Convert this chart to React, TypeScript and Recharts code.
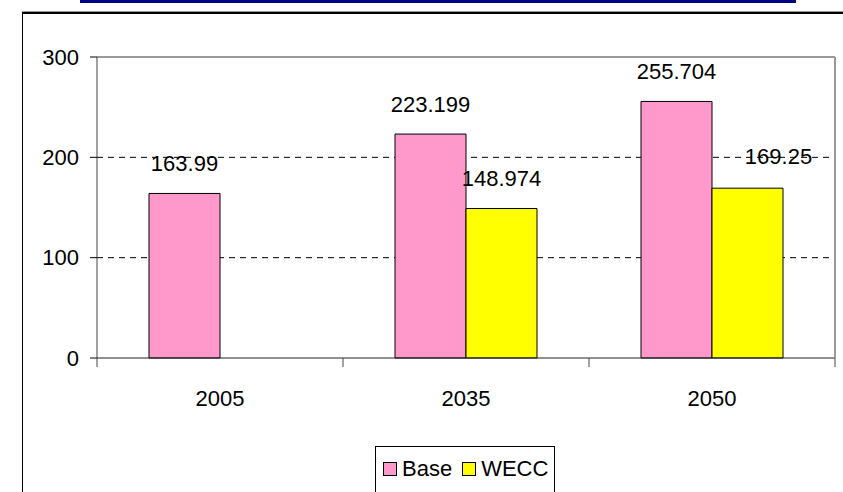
import React from "react";
import {
  BarChart,
  Bar,
  XAxis,
  YAxis,
  CartesianGrid,
  ReferenceLine,
} from "recharts";

// Categories and series values
const years = ["2005", "2035", "2050"];
const baseValues = [163.99, 223.199, 255.704];
const weccValues: (number | null)[] = [null, 148.974, 169.25];
const yTicks = [0, 100, 200, 300];
const gridValues = [100, 200];

const rows = years.map((year, i) => ({
  year,
  Base: baseValues[i],
  WECC: weccValues[i],
}));

const FONT = "'Liberation Sans', Arial, sans-serif";
const FS = 22;
const PINK = "#FF99CC";
const YELLOW = "#FFFF00";

// Label placement tweaks (dx, dy of label centre relative to bar top centre)
const baseLabelShift = { dx: 0, dy: -30 };
const weccLabelShift: Record<number, { dx: number; dy: number }> = {
  1: { dx: 31, dy: -32 },
  2: { dx: 43, dy: -16 },
};

const makeLabel =
  (shiftFor: (i: number) => { dx: number; dy: number }) => (props: any) => {
    const { x, y, width, value, index } = props;
    if (value === null || value === undefined) return null;
    const s = shiftFor(index);
    return (
      <text
        x={x + width / 2 + s.dx}
        y={y + s.dy}
        dy="0.36em"
        textAnchor="middle"
        fontFamily={FONT}
        fontSize={FS}
        fill="#000"
      >
        {String(value)}
      </text>
    );
  };

// Category label at the band centre plus tick marks on band boundaries
const XTick = (props: any) => {
  const { x, y, payload, index, visibleTicksCount, width } = props;
  const half =
    payload && payload.offset
      ? payload.offset
      : width / (visibleTicksCount || 1) / 2;
  const last = index === visibleTicksCount - 1;
  return (
    <g>
      <line x1={x - half} x2={x - half} y1={y} y2={y + 9} stroke="#444" strokeWidth={1} />
      {last && (
        <line x1={x + half} x2={x + half} y1={y} y2={y + 9} stroke="#444" strokeWidth={1} />
      )}
      <text
        x={x}
        y={y + 48}
        textAnchor="middle"
        fontFamily={FONT}
        fontSize={FS}
        fill="#000"
      >
        {payload.value}
      </text>
    </g>
  );
};

const LegendSwatch = ({ color }: { color: string }) => (
  <span
    style={{
      display: "inline-block",
      width: 12,
      height: 12,
      background: color,
      border: "1px solid #000",
      marginRight: 5,
      verticalAlign: "middle",
      position: "relative",
      top: -1,
    }}
  />
);

export default function App() {
  return (
    <div
      style={{
        position: "absolute",
        left: 0,
        top: 0,
        width: 843,
        height: 492,
        overflow: "hidden",
        background: "#fff",
      }}
    >
      {/* title rule */}
      <div
        style={{
          position: "absolute",
          left: 80,
          top: 0,
          width: 716,
          height: 3,
          background: "#000080",
        }}
      />
      {/* chart frame */}
      <div
        style={{
          position: "absolute",
          left: 22,
          top: 12,
          width: 900,
          height: 600,
          borderLeft: "1px solid #000",
          borderTop: "2px solid #000",
          boxShadow: "0 -1px 0 #999",
        }}
      />
      <div style={{ position: "absolute", left: 0, top: 0 }}>
        <BarChart
          width={843}
          height={492}
          data={rows}
          margin={{ top: 57, right: 0, bottom: 86, left: 0 }}
          barCategoryGap={52}
          barGap={0}
        >
          <CartesianGrid
            vertical={false}
            stroke="#000"
            strokeDasharray="6 5"
            yAxisId="left"
            horizontalValues={gridValues}
          />
          <XAxis
            dataKey="year"
            height={48}
            axisLine={{ stroke: "#222", strokeWidth: 1 }}
            tickLine={false}
            tickSize={0}
            tickMargin={0}
            tick={<XTick />}
            interval={0}
          />
          <YAxis
            yAxisId="left"
            width={97}
            domain={[0, 300]}
            ticks={yTicks}
            interval={0}
            axisLine={{ stroke: "#444", strokeWidth: 1 }}
            tickLine={{ stroke: "#000" }}
            tickSize={7}
            tickMargin={11}
            tick={{ fontFamily: FONT, fontSize: FS, fill: "#000" }}
          />
          <YAxis
            yAxisId="right"
            orientation="right"
            width={8}
            domain={[0, 300]}
            tick={false}
            tickLine={false}
            axisLine={{ stroke: "#999", strokeWidth: 2 }}
          />
          <ReferenceLine yAxisId="left" y={300} stroke="#999" strokeWidth={2} />
          <Bar
            yAxisId="left"
            dataKey="Base"
            fill={PINK}
            stroke="#000"
            strokeWidth={1}
            isAnimationActive={false}
            label={makeLabel(() => baseLabelShift)}
          />
          <Bar
            yAxisId="left"
            dataKey="WECC"
            fill={YELLOW}
            stroke="#000"
            strokeWidth={1}
            isAnimationActive={false}
            label={makeLabel((i) => weccLabelShift[i] || baseLabelShift)}
          />
        </BarChart>
      </div>
      {/* legend */}
      <div
        style={{
          position: "absolute",
          left: 375,
          top: 446,
          width: 180,
          height: 60,
          border: "1px solid #000",
          background: "#fff",
          fontFamily: FONT,
          fontSize: FS,
          color: "#000",
          boxSizing: "border-box",
          paddingLeft: 7,
          paddingTop: 10,
          whiteSpace: "nowrap",
          lineHeight: "24px",
        }}
      >
        <LegendSwatch color={PINK} />
        <span style={{ marginRight: 10 }}>Base</span>
        <LegendSwatch color={YELLOW} />
        <span>WECC</span>
      </div>
    </div>
  );
}
